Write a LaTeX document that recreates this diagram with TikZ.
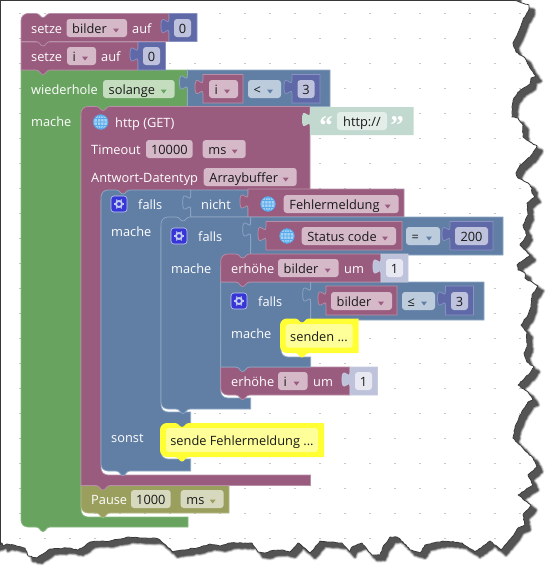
\documentclass[tikz,border=0pt]{standalone}
\usepackage{fontspec}
\setmainfont{Open Sans}
\newfontfamily\quotefont{Liberation Serif}
\usetikzlibrary{decorations.pathmorphing}
\definecolor{cpu}{HTML}{9A5C7E}\definecolor{cpuL}{HTML}{B88FA8}\definecolor{fpu}{HTML}{D6B9C9}
\definecolor{cbl}{HTML}{617FA5}\definecolor{cblL}{HTML}{8FA8C4}\definecolor{fbl}{HTML}{BCCCDD}
\definecolor{cnu}{HTML}{5F69A7}\definecolor{cnuL}{HTML}{8A92C4}\definecolor{fnu}{HTML}{BEC2DD}
\definecolor{cgr}{HTML}{69A360}\definecolor{cgrL}{HTML}{88BA80}\definecolor{fgr}{HTML}{C3DDBE}
\definecolor{col}{HTML}{9A9F5E}\definecolor{colL}{HTML}{B5B986}\definecolor{fol}{HTML}{D7D9BF}
\definecolor{cst}{HTML}{C2D9D0}\definecolor{fst}{HTML}{E3EEE9}
\definecolor{csh}{HTML}{BEC2DB}\definecolor{fsh}{HTML}{E7E8F2}
\definecolor{cye}{HTML}{FFFF33}\definecolor{fye}{HTML}{FFFF99}
\definecolor{cgl}{HTML}{55A8EC}\definecolor{fgl}{HTML}{A6D2F4}
\definecolor{cgear}{HTML}{3636D6}\definecolor{lgear}{HTML}{C4CBF2}
\tikzset{
 pu/.style={fill=cpu,draw=cpuL,line width=.7pt},
 bl/.style={fill=cbl,draw=cblL,line width=.7pt},
 nu/.style={fill=cnu,draw=cnuL,line width=.7pt},
 gr/.style={fill=cgr,draw=cgrL,line width=.7pt},
 ol/.style={fill=col,draw=colL,line width=.7pt},
 st/.style={fill=cst},
 sh/.style={fill=csh,draw=csh!85!white,line width=.7pt},
 ye/.style={fill=cye},
 wtxt/.style={text=white,inner sep=0pt,font=\fontsize{12.8}{15}\selectfont},
 btxt/.style={text=black!90,inner sep=0pt,font=\fontsize{12.8}{15}\selectfont},
 qtxt/.style={text=white,inner sep=0pt,anchor=base,font=\quotefont\bfseries\fontsize{27}{27}\selectfont},
 dot/.style={draw=black!22,line width=1pt},
 edgeline/.style={draw=black!78,line width=.8pt,line join=round},
 torn/.style={decorate,decoration={random steps,segment length=2.2pt,amplitude=.5pt}},
 shad/.style={line join=round}
}
\def\TLC#1#2{({#1},{#2+7}) .. controls ({#1},{#2+3}) and ({#1+3},{#2}) .. ({#1+7},{#2})}
\def\NOTCH#1#2{-- ({#1+15},#2) .. controls ({#1+19},#2) and ({#1+19},{#2+4}) .. ({#1+22},{#2+4}) .. controls ({#1+25},{#2+4}) and ({#1+25},#2) .. ({#1+29},#2)}
\def\TAB#1#2{-- ({#1+29},#2) .. controls ({#1+25},#2) and ({#1+25},{#2+4.5}) .. ({#1+22},{#2+4.5}) .. controls ({#1+19},{#2+4.5}) and ({#1+19},#2) .. ({#1+15},#2)}
\def\BLC#1#2{-- ({#1+7},#2) .. controls ({#1+3},#2) and ({#1},{#2-3}) .. ({#1},{#2-7})}
\def\INC#1#2{-- ({#1},{#2-7}) .. controls ({#1},{#2-3}) and ({#1+3},#2) .. ({#1+7},#2)}
\def\PUZ#1#2{-- ({#1},{#2+20}) .. controls ({#1},{#2+10}) and ({#1-8},{#2+28}) .. ({#1-8},{#2+12.5}) .. controls ({#1-8},{#2-3}) and ({#1},{#2+15}) .. ({#1},{#2+5})}
\newcommand{\outb}[5]{\path[#1] (#2,#4) -- (#3,#4) -- (#3,#5) -- (#2,#5) \PUZ{#2}{#4} -- cycle;}
\newcommand{\lbl}[4]{\node[wtxt,anchor=base west] (#1) at (#2,#3) {#4};}
\newcommand{\fld}[6]{\path[fill=#5,rounded corners=3pt] (#2,{#4-9}) rectangle (#3,{#4+9});
 \node[btxt,anchor=base] (#1) at ({(#2+#3)/2},{#4+5}) {#6};}
\newcommand{\ddf}[7]{\path[fill=#5,rounded corners=3pt] (#2,{#4-9}) rectangle (#3,{#4+9});
 \node[btxt,anchor=base west] (#1) at ({#2+5.5},{#4+5}) {#7};
 \path[fill=#6] ({#3-14},{#4+.5}) -- ({#3-8},{#4+.5}) -- ({#3-11},{#4+4.5}) -- cycle;}
\newcommand{\globeic}[2]{\draw[cgl,fill=fgl,line width=.9pt] (#1,#2) circle[radius=7.2pt];
 \draw[cgl,line width=.7pt] (#1,#2) ellipse[x radius=3.4pt,y radius=7.2pt] ({#1},{#2-7.2}) -- ({#1},{#2+7.2}) ({#1-7.2},#2) -- ({#1+7.2},#2) ({#1-6.3},{#2-3.5}) -- ({#1+6.3},{#2-3.5}) ({#1-6.3},{#2+3.5}) -- ({#1+6.3},{#2+3.5});}
\newcommand{\gearic}[2]{\path[fill=cgear,draw=lgear,line width=.6pt,rounded corners=3pt] ({#1-8},{#2-8}) rectangle ({#1+8},{#2+8});
 \draw[lgear,line width=1.8pt] (#1,#2) circle[radius=3pt];
 \foreach \a in {0,60,120,180,240,300}{\draw[lgear,line width=1.1pt] ([shift={(\a:3.5pt)}]#1,#2) -- ([shift={(\a:5.2pt)}]#1,#2);}}
\newcommand{\yellowb}[4]{\path[ye] \TLC{#1}{#3} \NOTCH{#1}{#3} -- (#2,#3) -- (#2,#4) \TAB{#1}{#4} \BLC{#1}{#4} -- cycle;}
\def\paperpath{(-8,-8) -- (515,-8) -- (515,.5) -- (529,5) -- (529,9) -- (523,20) -- (518,33) -- (513,43) -- (516,52) -- (525,58) -- (527,62) -- (530,68) -- (536,76) -- (531,78) -- (530,84) -- (518,92) -- (514,98) -- (512,107) -- (512,117) -- (518,118) -- (523,125) -- (523,137) -- (530,142) -- (537,146) -- (530,157) -- (520,165) -- (516,173) -- (518,178) -- (528,183) -- (532,188) -- (532,193) -- (535,197) -- (527,203) -- (528,215) -- (523,225) -- (527,235) -- (520,245) -- (530,255) -- (517,265) -- (518,270) -- (525,273) -- (525,278) -- (538,286) -- (532,295) -- (531,307) -- (528,315) -- (521,325) -- (527,333) -- (527,347) -- (524,353) -- (527,362) -- (534,367) -- (530,373) -- (518,385) -- (528,392) -- (533,400) -- (528,402) -- (520,415) -- (515,427) -- (513,438) -- (522,447) -- (533,458) -- (537,467) -- (528,475) -- (533,485) -- (518,495) -- (531,505) -- (523,515) -- (525,525) -- (518,528) -- (512,537) -- (501,550) -- (490,541) -- (483,546) -- (475,552) -- (462,543) -- (443,541) -- (425,545) -- (420,553) -- (410,550) -- (403,542) -- (397,537) -- (390,537) -- (383,547) -- (380,555) -- (372,555) -- (362,543) -- (352,547) -- (350,552) -- (342,543) -- (330,542) -- (320,541) -- (310,553) -- (303,547) -- (298,543) -- (290,552) -- (282,550) -- (270,551) -- (265,553) -- (258,552) -- (252,543) -- (242,543) -- (230,543) -- (220,546) -- (210,544) -- (197,548) -- (183,550) -- (173,552) -- (160,540) -- (155,538) -- (140,538) -- (128,537) -- (110,541) -- (90,542) -- (82,548) -- (78,550) -- (68,548) -- (50,549) -- (37,558) -- (28,556) -- (25,548) -- (7,544) -- (3,546) -- (2,543) -- (-8,546) -- cycle}
\begin{document}
\begin{tikzpicture}[x=1pt,y=-1pt]
\useasboundingbox (0,0) rectangle (559,581);
% torn paper and its shadow
\begin{scope}[shift={(5,5)}]
\pgfmathsetseed{7}\path[shad,torn,draw=black!10,fill=black!10,line width=5pt] \paperpath;
\pgfmathsetseed{7}\path[shad,torn,draw=black!28,fill=black!28,line width=3.6pt] \paperpath;
\pgfmathsetseed{7}\path[shad,torn,draw=black!48,fill=black!48,line width=2.2pt] \paperpath;
\pgfmathsetseed{7}\path[shad,torn,draw=black!67,fill=black!67,line width=.8pt] \paperpath;
\end{scope}
\pgfmathsetseed{7}\path[torn,fill=white,edgeline] \paperpath;
\draw[black!78,line width=1pt] (0,.5) -- (515,.5) (.5,0) -- (.5,545);
% grid dots
\begin{scope}
\pgfmathsetseed{7}\clip[torn] \paperpath;
\foreach \i in {0,...,20}{\foreach \j in {0,...,21}{\draw[dot] ({19+25*\i},{13.5+25*\j}) -- ({21+25*\i},{13.5+25*\j});}}
\end{scope}
% wiederhole
\path[gr] (21,70) -- (187.5,70) -- (187.5,112) -- (115,112) -- (115,116) -- (81,116) \INC{81}{517} -- (188,517) -- (188,527) \TAB{21}{527} \BLC{21}{527} -- cycle;
\outb{bl}{187.5}{330}{70}{106.5}
\outb{pu}{203}{243}{74.5}{103}
\outb{nu}{292}{320}{74.5}{103}
\lbl{wh}{31}{94}{wiederhole}\lbl{wm}{31}{126}{mache}
\ddf{sol}{103}{174.7}{89}{fgr}{cgr}{solange}
\ddf{ci}{209}{238}{89}{fpu}{cpu}{i}
\ddf{clt}{248}{281}{89}{fbl}{cbl}{<}
\fld{c3}{297.5}{314.5}{89}{fnu}{3}
% pause
\path[ol] (81,485) -- (229,485) -- (229,513) \TAB{81}{513} \BLC{81}{513} -- cycle;
\lbl{pa}{91}{504}{Pause}
\fld{pav}{131}{170.7}{499}{fol}{1000}
\ddf{pau}{180.7}{223.7}{499}{fol}{col}{ms}
% http
\path[pu] \TLC{81}{106.5} \NOTCH{81}{106.5} -- (310,106.5) -- (310,196) -- (135,196) -- (135,200) -- (101,200) \INC{101}{475} -- (310.5,475) -- (310.5,485.5) \TAB{81}{485.5} -- (81,485.5) -- cycle;
\path[st] (310,107) -- (413.7,107) -- (413.7,135) -- (310,135) \PUZ{310}{107} -- cycle;
\globeic{100.7}{122}
\lbl{ht}{115}{127}{http (GET)}
\lbl{to}{91}{154}{Timeout}
\fld{tov}{146}{192.7}{149}{fpu}{10000}
\ddf{tou}{202.7}{245.7}{149}{fpu}{cpu}{ms}
\lbl{ad}{91}{182}{Antwort-Datentyp}
\ddf{adv}{203.7}{296.7}{177}{fpu}{cpu}{Arraybuffer}
\node[qtxt] (q1) at (326,134) {“};
\node[qtxt] (q2) at (397,134) {”};
\fld{url}{337}{387}{121}{fst}{http://}
% falls 1
\path[bl] \TLC{101}{190} \NOTCH{101}{190} -- (190.7,190) -- (190.7,223) -- (170,223) -- (170,227) -- (161,227) \INC{161}{412} -- (190.7,412) -- (190.7,430) -- (170,430) -- (170,433) -- (161,433) \INC{161}{459} -- (190.7,459) -- (190.7,471) \TAB{101}{471} \BLC{101}{471} -- cycle;
\outb{bl}{190.7}{248}{190}{217}
\outb{pu}{248}{404}{189}{217}
\gearic{119}{204}
\lbl{f1}{138}{209}{falls}\lbl{m1}{111}{236}{mache}\lbl{nic}{201}{209}{nicht}\lbl{so}{111}{442}{sonst}
\globeic{268}{204}
\ddf{feh}{283.7}{398.7}{204}{fpu}{cpu}{Fehlermeldung}
\yellowb{160}{324}{423}{457}
\path[fill=fye,rounded corners=3pt] (166,428) rectangle (318,452);
\node[btxt,anchor=base] (sf) at (242,445) {sende Fehlermeldung ...};
% falls 2
\path[bl] \TLC{161}{217} \NOTCH{161}{217} -- (250.7,217) -- (250.7,262) -- (225,262) -- (225,266) -- (220.7,266) \INC{220.7}{398} -- (250.7,398) -- (250.7,409) \TAB{161}{409} \BLC{161}{409} -- cycle;
\outb{bl}{250.7}{503}{217}{255}
\outb{pu}{266}{402}{221.5}{250}
\outb{nu}{450}{493}{221.5}{250}
\gearic{179}{236}
\lbl{f2}{198}{241}{falls}\lbl{m2}{171}{273}{mache}
\globeic{287}{236}
\ddf{stc}{301.7}{396}{236}{fpu}{cpu}{Status code}
\ddf{eq}{406}{440}{236}{fbl}{cbl}{=}
\fld{n200}{455}{488}{236}{fnu}{200}
% erhoehe i
\path[pu] (220.7,367) -- (350,367) -- (350,395) \TAB{220.7}{395} \BLC{220.7}{395} -- cycle;
\outb{sh}{350}{377.5}{367}{395}
\lbl{ei}{231}{386}{erhöhe}
\ddf{eiv}{278}{307.5}{381}{fpu}{cpu}{i}
\lbl{eu}{313}{386}{um}
\fld{e1}{355}{372}{381}{fsh}{1}
% falls 3
\path[bl] (220.7,282) -- (310.7,282) -- (310.7,326) -- (290,326) -- (290,330) -- (281,330) \INC{281}{357} -- (310.7,357) -- (310.7,367) \TAB{220.7}{367} -- (220.7,367) -- cycle;
\outb{bl}{310.7}{484}{282}{320}
\outb{pu}{326}{397}{286}{315}
\outb{nu}{445.5}{473.5}{286}{315}
\gearic{239}{301}
\lbl{f3}{258}{306}{falls}\lbl{m3}{231}{338}{mache}
\ddf{bv}{331}{392}{301}{fpu}{cpu}{bilder}
\ddf{le}{402}{435}{301}{fbl}{cbl}{≤}
\fld{f33}{451}{468}{301}{fnu}{3}
\yellowb{280}{358.5}{318.5}{353}
\path[fill=fye,rounded corners=3pt] (285.7,324) rectangle (352.7,347.7);
\node[btxt,anchor=base] (sd) at (319,341) {senden ...};
% erhoehe bilder
\path[pu] \TLC{220.7}{254} \NOTCH{220.7}{254} -- (381,254) -- (381,282) \TAB{220.7}{282} -- (220.7,282) -- cycle;
\outb{sh}{381}{408}{254}{282}
\lbl{eb}{231}{273}{erhöhe}
\ddf{ebv}{278}{338.6}{268}{fpu}{cpu}{bilder}
\lbl{eum}{344}{273}{um}
\fld{e11}{386}{403}{268}{fsh}{1}
% setze i
\path[pu] (21,42) -- (138,42) -- (138,70) \TAB{21}{70} -- (21,70) -- cycle;
\outb{nu}{138}{165.5}{42}{70}
\lbl{s2}{31}{61}{setze}
\ddf{s2v}{67}{96}{56}{fpu}{cpu}{i}
\lbl{s2a}{101}{61}{auf}
\fld{s20}{143}{160}{56}{fnu}{0}
% setze bilder
\path[pu] \TLC{21}{13.5} \NOTCH{21}{13.5} -- (169,13.5) -- (169,41.5) \TAB{21}{41.5} -- (21,41.5) -- cycle;
\outb{nu}{169}{197}{13.5}{41.5}
\lbl{s1}{31}{33}{setze}
\ddf{s1v}{66.5}{127}{28}{fpu}{cpu}{bilder}
\lbl{s1a}{132}{33}{auf}
\fld{s10}{174}{191}{28}{fnu}{0}
\end{tikzpicture}
\end{document}
